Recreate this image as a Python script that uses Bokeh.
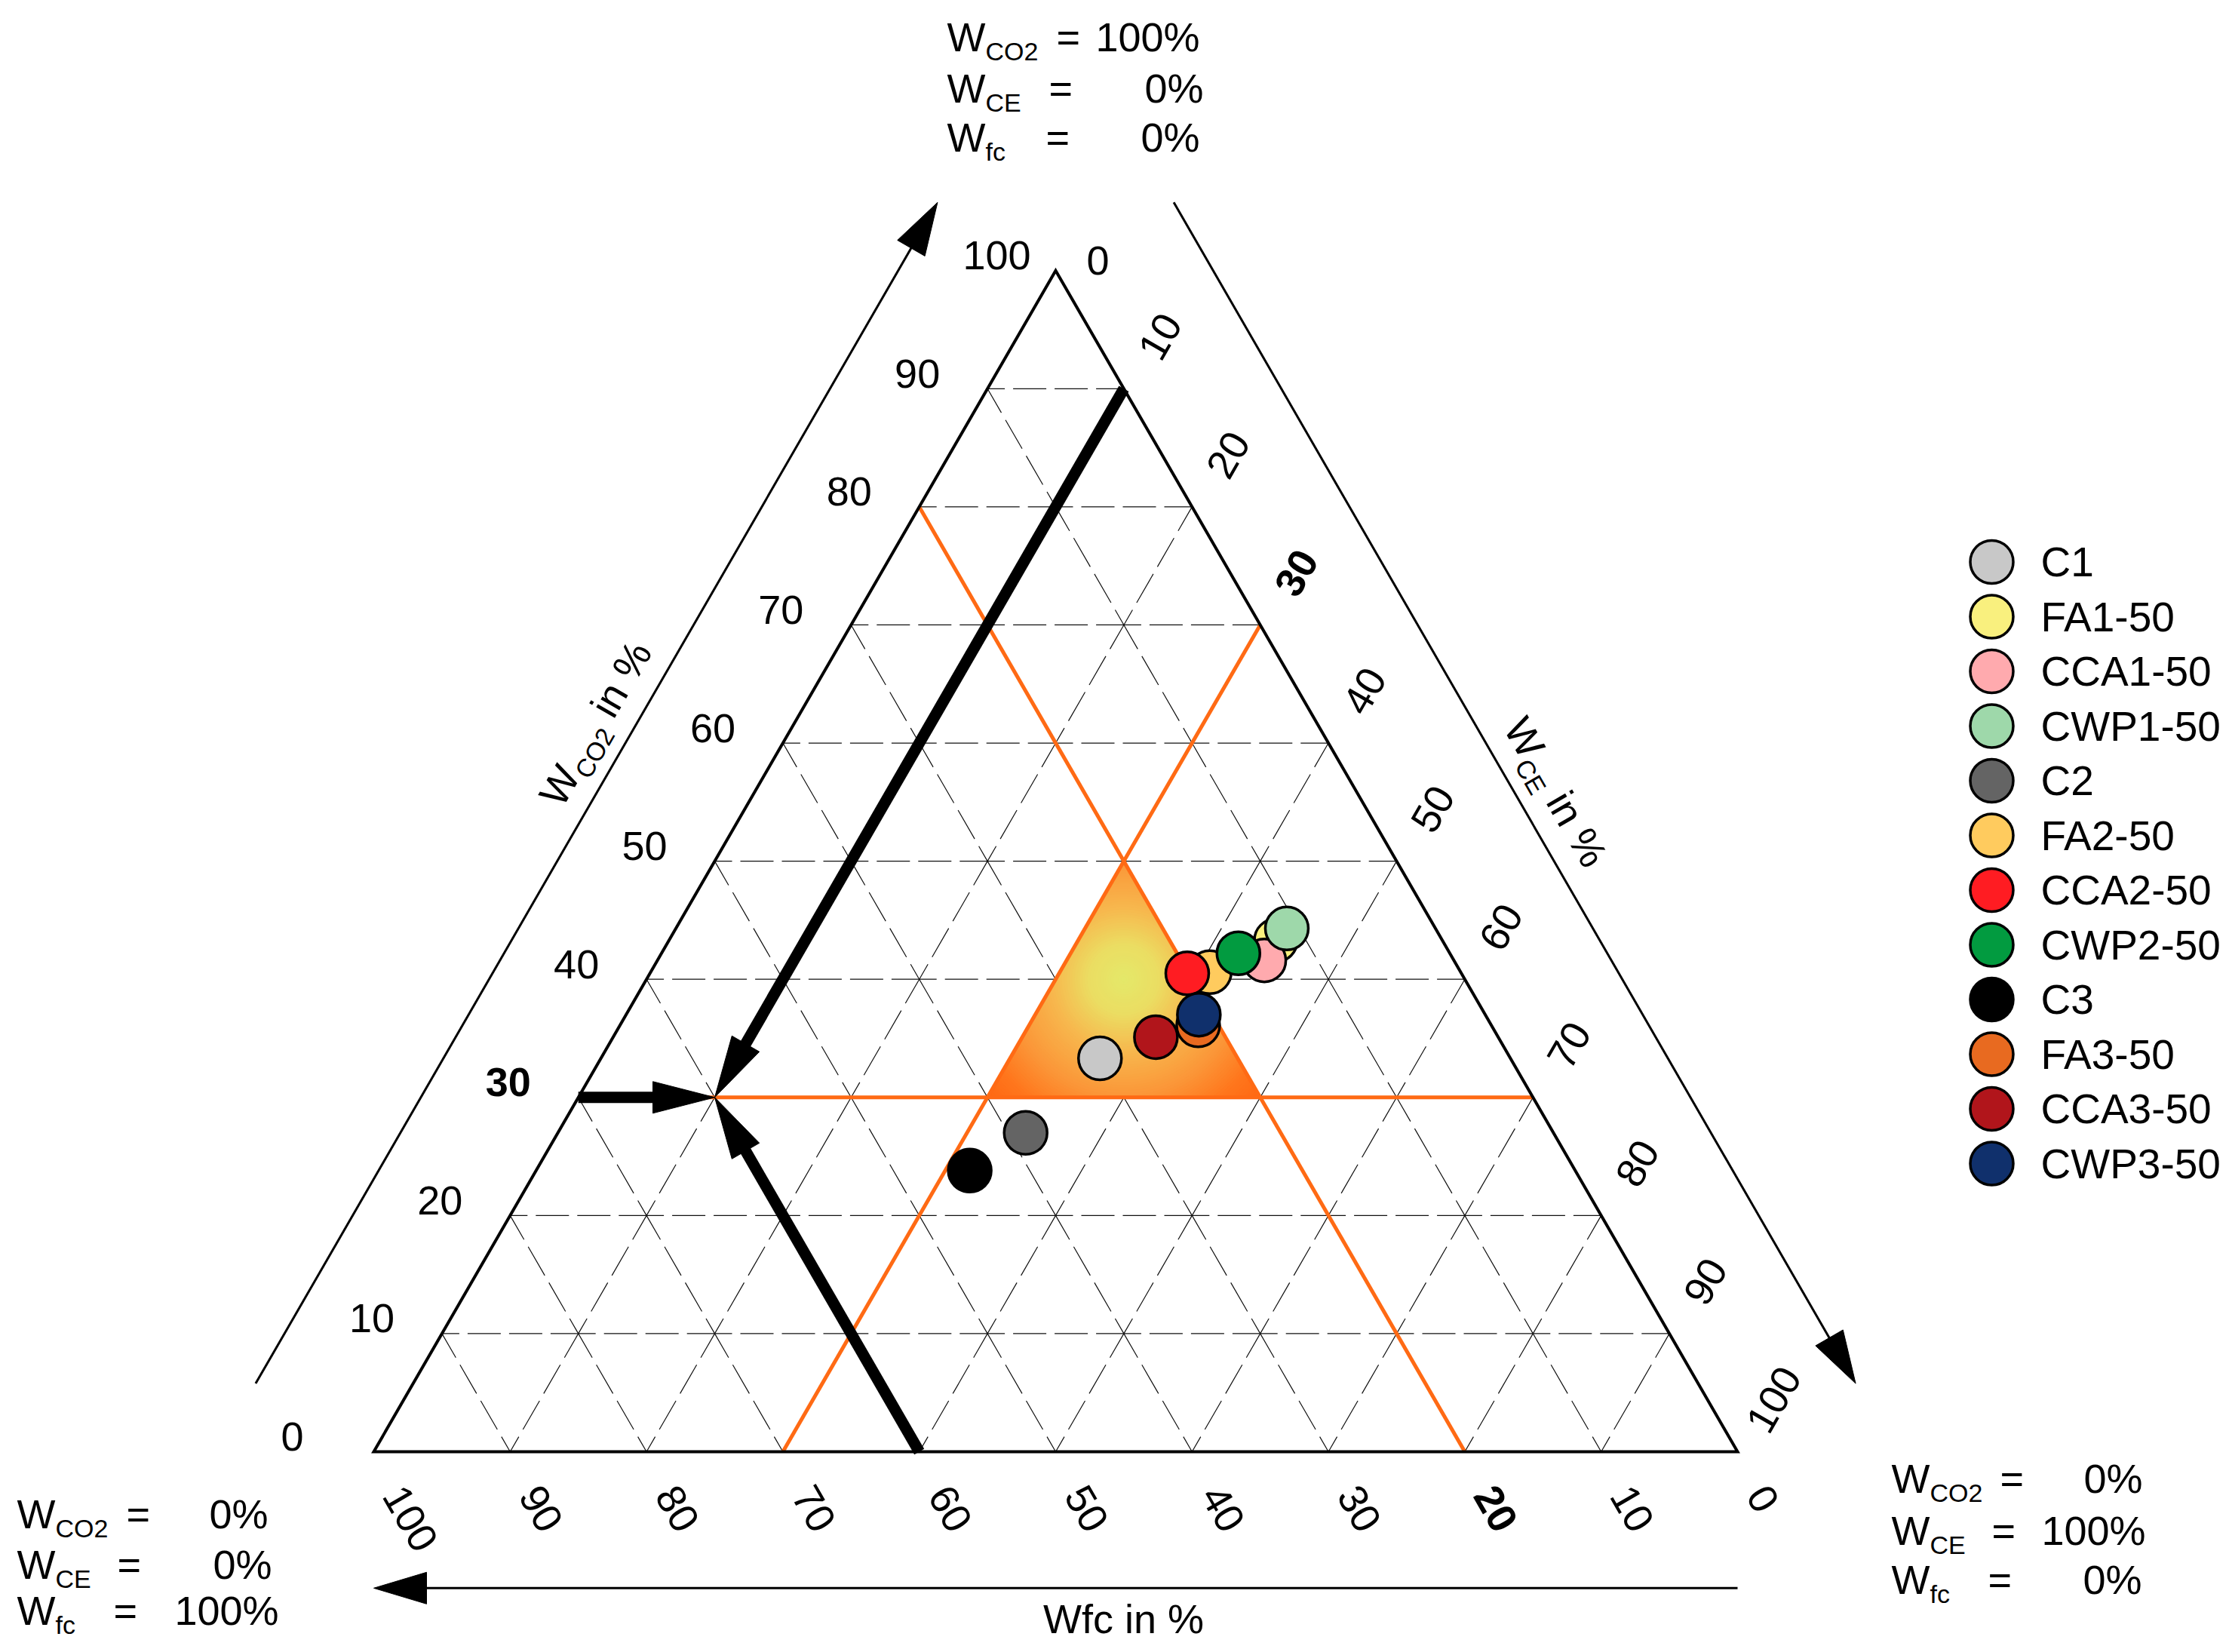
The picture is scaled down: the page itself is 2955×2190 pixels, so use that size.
import numpy as np
from bokeh.plotting import figure
from bokeh.models import Range1d
from bokeh.embed import file_html
from bokeh.resources import INLINE
from bokeh.core.properties import value

# ---------------- data ----------------
samples = ["C1", "FA1-50", "CCA1-50", "CWP1-50", "C2", "FA2-50", "CCA2-50", "CWP2-50",
           "C3", "FA3-50", "CCA3-50", "CWP3-50"]
w_co2 = [33.3, 43.3, 41.6, 44.3, 27.0, 40.6, 40.5, 42.2, 23.8, 36.1, 35.1, 37.0]
w_ce = [36.6, 44.5, 44.5, 44.8, 34.3, 41.0, 39.4, 42.3, 31.8, 42.4, 39.8, 42.0]
w_fc = [30.1, 12.2, 13.9, 10.9, 38.7, 18.4, 20.1, 15.5, 44.4, 21.5, 25.1, 21.0]
sample_colors = ["#C8C8C8", "#F9F07E", "#FFAAAE", "#9ED8AA", "#646464", "#FFCB5E",
                 "#FF1C22", "#029B40", "#000000", "#E86A20", "#B1151B", "#10306C"]

tick_values = [0, 10, 20, 30, 40, 50, 60, 70, 80, 90, 100]
tick_labels = ["0", "10", "20", "30", "40", "50", "60", "70", "80", "90", "100"]
limit_co2, limit_ce, limit_fc = 30, 30, 20          # orange limit lines
example_co2, example_ce, example_fc = 30, 10, 60    # reading example (black arrows)

# ---------------- geometry helpers ----------------
H = np.sqrt(3) / 2
PXU = 18.08  # pixels per ternary unit
FONT = value("Liberation Sans")
W_FIG, H_FIG = 2947, 2182


def tern(co2, ce, fc):
    co2 = np.asarray(co2, float)
    ce = np.asarray(ce, float)
    fc = np.asarray(fc, float)
    t = co2 + ce + fc
    return 100 * (ce + co2 / 2) / t, 100 * H * co2 / t


def ref(px, py):
    return (px - 495.0) / PXU, (1924.0 - py) / PXU


p = figure(width=W_FIG, height=H_FIG,
           x_range=Range1d(-495 / PXU, (W_FIG - 495) / PXU),
           y_range=Range1d((1924 - H_FIG) / PXU, 1924 / PXU),
           x_axis_type=None, y_axis_type=None, output_backend="svg",
           toolbar_location=None, min_border=0)
p.outline_line_color = None
p.background_fill_color = "white"
p.border_fill_color = "white"

# ---------------- dashed grid ----------------
gx, gy = [], []
for k in tick_values[1:-1]:
    for j in range(0, 100 - k, 10):
        segs = []
        if k != limit_co2:
            segs.append(((k, j, 100 - k - j), (k, j + 10, 90 - k - j)))
        if k != limit_ce:
            segs.append(((j, k, 100 - k - j), (j + 10, k, 90 - k - j)))
        if k != limit_fc:
            segs.append(((j, 100 - k - j, k), (j + 10, 90 - k - j, k)))
        for P, Q in segs:
            x0, y0 = tern(*P)
            x1, y1 = tern(*Q)
            gx.append([float(x0), float(x1)])
            gy.append([float(y0), float(y1)])
p.multi_line(gx, gy, line_color="#101010", line_width=1.2, line_dash="44 11",
             line_dash_offset=21)

# ---------------- gradient region ----------------
A = tern(100 - limit_ce - limit_fc, limit_ce, limit_fc)
B = tern(limit_co2, 100 - limit_co2 - limit_fc, limit_fc)
C = tern(limit_co2, limit_ce, 100 - limit_co2 - limit_ce)
tri = [(float(C[0]), float(C[1])), (float(B[0]), float(B[1])), (float(A[0]), float(A[1]))]


def clip(subject, clipper):
    out = list(subject)
    for i in range(len(clipper)):
        a = clipper[i]
        b = clipper[(i + 1) % len(clipper)]
        inp, out = out, []
        if not inp:
            break

        def inside(q):
            return (b[0] - a[0]) * (q[1] - a[1]) - (b[1] - a[1]) * (q[0] - a[0]) >= 0

        def inter(s, e):
            x1, y1 = s
            x2, y2 = e
            x3, y3 = a
            x4, y4 = b
            den = (x1 - x2) * (y3 - y4) - (y1 - y2) * (x3 - x4)
            t = ((x1 - x3) * (y3 - y4) - (y1 - y3) * (x3 - x4)) / den
            return (x1 + t * (x2 - x1), y1 + t * (y2 - y1))

        s = inp[-1]
        for e in inp:
            if inside(e):
                if not inside(s):
                    out.append(inter(s, e))
                out.append(e)
            elif inside(s):
                out.append(inter(s, e))
            s = e
    return out


txs = [q[0] for q in tri]
tys = [q[1] for q in tri]
gcx = (min(txs) + max(txs)) / 2
gcy = (min(tys) + max(tys)) / 2
rmax = max(np.hypot(q[0] - gcx, q[1] - gcy) for q in tri)
stops_t = [0.0, 0.2, 0.4, 0.65, 0.85, 1.0]
stops_c = np.array([[228, 233, 106], [235, 221, 98], [247, 184, 78], [251, 150, 56],
                    [255, 118, 28], [255, 104, 18]], float)
fxs, fys, fcs = [], [], []
N = 70
ang = np.linspace(0, 2 * np.pi, 160, endpoint=False)
for i in range(N, 0, -1):
    t = i / N
    r = rmax * t
    circ = list(zip(gcx + r * np.cos(ang), gcy + r * np.sin(ang)))
    poly = clip(circ, tri)
    if len(poly) < 3:
        continue
    rgb = [np.interp(t, stops_t, stops_c[:, c]) for c in range(3)]
    fxs.append([q[0] for q in poly])
    fys.append([q[1] for q in poly])
    fcs.append("#%02x%02x%02x" % tuple(int(round(v)) for v in rgb))
p.patches(fxs, fys, fill_color=fcs, line_color=fcs, line_width=1)

# ---------------- orange limit lines ----------------
ol = [((limit_co2, 0, 100 - limit_co2), (limit_co2, 100 - limit_co2, 0)),
      ((0, limit_ce, 100 - limit_ce), (100 - limit_ce, limit_ce, 0)),
      ((0, 100 - limit_fc, limit_fc), (100 - limit_fc, 0, limit_fc))]
ox, oy = [], []
for P, Q in ol:
    x0, y0 = tern(*P)
    x1, y1 = tern(*Q)
    ox.append([float(x0), float(x1)])
    oy.append([float(y0), float(y1)])
p.multi_line(ox, oy, line_color="#FF6A14", line_width=5)

# ---------------- triangle border ----------------
bx, by = tern([0, 0, 100], [0, 100, 0], [100, 0, 0])
p.patch(list(bx), list(by), fill_color=None, line_color="black", line_width=4,
        line_join="miter")


def arrow(x0, y0, x1, y1, lw, hl, hw):
    d = np.array([x1 - x0, y1 - y0], float)
    u = d / np.hypot(*d)
    n = np.array([-u[1], u[0]])
    hlu, hwu = hl / PXU, hw / PXU
    tip = np.array([x1, y1], float)
    base = tip - u * hlu
    send = base + u * hlu * 0.3
    p.line([x0, send[0]], [y0, send[1]], line_color="black", line_width=lw, line_cap="butt")
    p.patch([tip[0], base[0] + n[0] * hwu, base[0] - n[0] * hwu],
            [tip[1], base[1] + n[1] * hwu, base[1] - n[1] * hwu],
            fill_color="black", line_color="black", line_width=1)


# outer axis arrows (10 units outside the edges)
arrow(-10 * H, 5, 50 - 10 * H, 100 * H + 5, 3, 70, 21)
arrow(50 + 10 * H, 100 * H + 5, 100 + 10 * H, 5, 3, 70, 21)
arrow(100, -10, 0, -10, 3, 70, 21)

# reading-example arrows
ex, ey = tern(example_co2, example_ce, example_fc)
starts = [(example_co2, 0, 100 - example_co2),
          (100 - example_ce, example_ce, 0),
          (0, 100 - example_fc, example_fc)]
for s in starts:
    sx, sy = tern(*s)
    arrow(float(sx), float(sy), float(ex), float(ey), 15, 82, 21)

# ---------------- sample points ----------------
px_, py_ = tern(w_co2, w_ce, w_fc)
p.scatter(list(px_), list(py_), size=57, fill_color=sample_colors, line_color="black",
          line_width=3.5)

# ---------------- tick labels ----------------
FS = "54px"
cx_, cy_ = tern(tick_values, [0] * 11, [100 - v for v in tick_values])
for bold in (False, True):
    sel = [i for i, v in enumerate(tick_values) if (v == limit_co2) == bold]
    p.text([float(cx_[i]) - 123 / PXU for i in sel], [float(cy_[i]) + 20 / PXU for i in sel],
           text=[tick_labels[i] for i in sel], text_font=FONT, text_font_size=FS,
           text_font_style="bold" if bold else "normal",
           text_align="left", text_baseline="middle", text_color="black")

# CE labels (right side)
ex_, ey_ = tern([100 - v for v in tick_values], tick_values, [0] * 11)
for bold in (False, True):
    sel = [i for i, v in enumerate(tick_values) if (v == limit_ce) == bold and v != 0]
    p.text([float(ex_[i]) + 48 / PXU for i in sel], [float(ey_[i]) + 69 / PXU for i in sel],
           text=[tick_labels[i] for i in sel], text_font=FONT, text_font_size=FS,
           text_font_style="bold" if bold else "normal", angle=np.pi / 3,
           text_align="center", text_baseline="middle", text_color="black")
p.text([float(ex_[0]) + 56 / PXU], [float(ey_[0]) + 13 / PXU], text=[tick_labels[0]],
       text_font=FONT, text_font_size=FS, text_align="center", text_baseline="middle",
       text_color="black")

# fc labels (bottom)
fx_, fy_ = tern([0] * 11, [100 - v for v in tick_values], tick_values)
for bold in (False, True):
    sel = [i for i, v in enumerate(tick_values) if (v == limit_fc) == bold]
    p.text([float(fx_[i]) + 26 / PXU for i in sel], [float(fy_[i]) - 49.6 / PXU for i in sel],
           text=[tick_labels[i] for i in sel], text_font=FONT, text_font_size=FS,
           text_font_style="bold" if bold else "normal", angle=-np.pi / 3,
           text_align="left", text_baseline="middle", text_color="black")


# ---------------- axis titles ----------------
def rotated_title(cpx, cpy, angle, pieces):
    d = np.array([np.cos(angle), np.sin(angle)])
    down = np.array([np.sin(angle), -np.cos(angle)])
    total = sum(w for _, _, w, _ in pieces)
    c = np.array(ref(cpx, cpy)) - down * 5 / PXU
    start = c - d * total / 2 / PXU
    cum = 0.0
    for txt, size, w, dy in pieces:
        pos = start + d * cum / PXU + down * dy / PXU
        if txt:
            p.text([pos[0]], [pos[1]], text=[txt], text_font=FONT, text_font_size=size,
                   angle=angle, text_align="left", text_baseline="middle",
                   text_color="black")
        cum += w


rotated_title(793, 961, np.pi / 3, [("W", "54px", 51, 0), ("CO2", "34px", 70, 19),
                                     ("", "54px", 15, 0), ("in %", "54px", 105, 0)])
rotated_title(2058, 1052, -np.pi / 3, [("W", "54px", 51, 0), ("CE", "34px", 47, 19),
                                        ("", "54px", 15, 0), ("in %", "54px", 105, 0)])
tx, ty = ref(1489, 2145)
p.text([tx], [ty], text=["Wfc in %"], text_font=FONT, text_font_size="54px",
       text_align="center", text_baseline="middle", text_color="black")


# ---------------- corner composition blocks ----------------
def block(wx, baselines, subs, eqx, valr, vals):
    for b, s, e, r, v in zip(baselines, subs, eqx, valr, vals):
        x, y = ref(wx, b - 19)
        p.text([x], [y], text=["W"], text_font=FONT, text_font_size="54px",
               text_align="left", text_baseline="middle", text_color="black")
        x, y = ref(wx + 51, b)
        p.text([x], [y], text=[s], text_font=FONT, text_font_size="34px",
               text_align="left", text_baseline="middle", text_color="black")
        x, y = ref(e - 3, b - 19)
        p.text([x], [y], text=["="], text_font=FONT, text_font_size="54px",
               text_align="left", text_baseline="middle", text_color="black")
        x, y = ref(r + 2, b - 19)
        p.text([x], [y], text=[v], text_font=FONT, text_font_size="54px",
               text_align="right", text_baseline="middle", text_color="black")


comp_subs = ["CO2", "CE", "fc"]
block(1255, [67, 135, 200], comp_subs, [1403, 1393, 1389], [1588, 1593, 1588],
      ["100%", "0%", "0%"])
block(22, [2025, 2092, 2153], comp_subs, [170, 158, 153], [353, 358, 367],
      ["0%", "0%", "100%"])
block(2507, [1978, 2047, 2112], comp_subs, [2654, 2643, 2638], [2838, 2842, 2837],
      ["0%", "100%", "0%"])

# ---------------- legend ----------------
lx, _ = ref(2640, 0)
ltx, _ = ref(2705, 0)
ly = [ref(0, 744.5 + 72.5 * i)[1] for i in range(len(samples))]
p.scatter([lx] * len(samples), ly, size=57, fill_color=sample_colors, line_color="black",
          line_width=3.5)
p.text([ltx] * len(samples), ly, text=samples, text_font=FONT, text_font_size="55px",
       text_align="left", text_baseline="middle", text_color="black")

open("out.html", "w").write(file_html(p, INLINE))
